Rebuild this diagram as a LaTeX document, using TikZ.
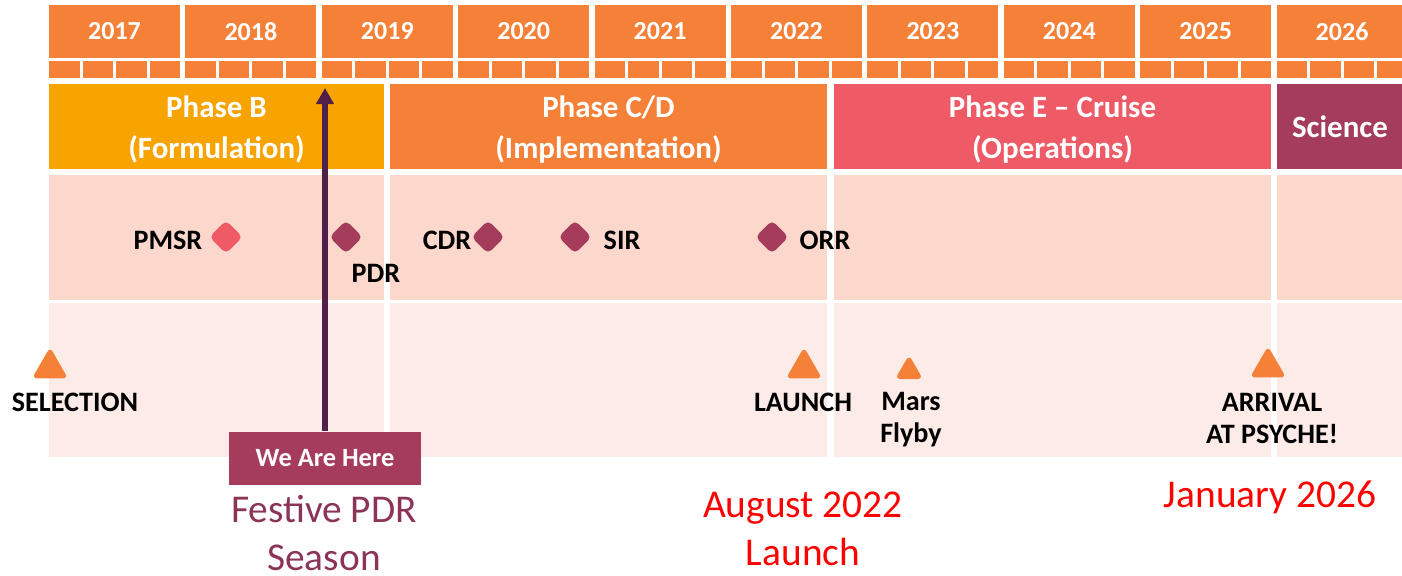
\documentclass[tikz,border=0pt]{standalone}
\usepackage{fontspec}
\setmainfont{Carlito}
\usetikzlibrary{arrows.meta, shapes.geometric}
\definecolor{YearOrange}{RGB}{245,128,55}
\definecolor{PhaseGold}{RGB}{247,163,0}
\definecolor{PhaseCoral}{RGB}{239,90,103}
\definecolor{Maroon}{RGB}{166,60,91}
\definecolor{BandDark}{RGB}{251,215,204}
\definecolor{BandLight}{RGB}{253,235,231}
\definecolor{NowPurple}{RGB}{80,32,74}
\definecolor{SeasonText}{RGB}{140,52,86}

\begin{document}
\begin{tikzpicture}[
  x=0.01cm, y=-0.01cm,
  year/.style={fill=YearOrange, text=white, font=\fontsize{7.4}{9}\selectfont\bfseries, minimum width=1.31cm, minimum height=0.53cm, inner sep=0},
  phase/.style={text=white, font=\fontsize{8.8}{11.4}\selectfont\bfseries, align=center, inner sep=0, anchor=base},
  review/.style={diamond, aspect=1, minimum size=0.34cm, inner sep=0, rounded corners=1.5pt},
  event/.style={regular polygon, regular polygon sides=3, fill=YearOrange, inner sep=0, rounded corners=1.5pt},
  lbl/.style={font=\fontsize{8}{9}\selectfont\bfseries, align=center, inner sep=0},
  big/.style={font=\fontsize{11.2}{13.4}\selectfont, align=center, inner sep=0, anchor=base},
  nowarr/.style={-{Triangle[width=0.17cm, length=0.16cm]}, line width=0.055cm, draw=NowPurple}
]
  \useasboundingbox (0,0) rectangle (1402,575);

  % Years with quarter ticks
  \foreach \yr [count=\i from 0] in {2017,...,2026} {
    \node[year] (y\yr) at ({49+136.4*\i+65.5}, 31.5) {\yr};
    \foreach \q in {0,...,3}
      \fill[YearOrange] ({49+136.4*\i+33.5*\q}, 61) rectangle ++(30.5,17);
  }

  % Mission phases
  \fill[PhaseGold] (49,84) rectangle (384,169);
  \fill[YearOrange] (390,84) rectangle (827,169);
  \fill[PhaseCoral] (834,84) rectangle (1271,169);
  \fill[Maroon] (1277,84) rectangle (1402,169);
  \node[phase] (phB) at (216.5,158) {Phase B\\(Formulation)};
  \node[phase] (phCD) at (608.5,158) {Phase C/D\\(Implementation)};
  \node[phase] (phE) at (1052.5,158) {Phase E -- Cruise\\(Operations)};
  \node[phase] (sci) at (1340,137) {Science};

  % Milestone bands
  \foreach \a/\b in {49/384, 390/827, 834/1271, 1277/1402} {
    \fill[BandDark] (\a,175) rectangle (\b,300);
    \fill[BandLight] (\a,303) rectangle (\b,457);
  }

  % Reviews
  \node[review, fill=PhaseCoral] (pmsr) at (226,237) {};
  \node[review, fill=Maroon] (pdr) at (346,237) {};
  \node[review, fill=Maroon] (cdr) at (488,237) {};
  \node[review, fill=Maroon] (sir) at (575,237) {};
  \node[review, fill=Maroon] (orr) at (772,237) {};
  \node[lbl, anchor=base east] (pmsr-l) at (203,249) {PMSR};
  \node[lbl, anchor=base west] (pdr-l) at (351,282) {PDR};
  \node[lbl, anchor=base east] (cdr-l) at (472,249) {CDR};
  \node[lbl, anchor=base west] (sir-l) at (603,249) {SIR};
  \node[lbl, anchor=base west] (orr-l) at (799,249) {ORR};

  % Key events
  \node[event, minimum size=0.416cm] (sel) at (50,368) {};
  \node[event, minimum size=0.416cm] (launch) at (804,368) {};
  \node[event, minimum size=0.32cm] (mars) at (909,371) {};
  \node[event, minimum size=0.416cm] (arrival) at (1268,367) {};
  \node[lbl, anchor=base] (sel-l) at (75,411) {SELECTION};
  \node[lbl, anchor=base] (launch-l) at (803,411) {LAUNCH};
  \node[lbl, anchor=base, font=\fontsize{8}{8.9}\selectfont\bfseries] (mars-l) at (911,442) {Mars\\Flyby};
  \node[lbl, anchor=base, font=\fontsize{8}{9.1}\selectfont\bfseries] (arrival-l) at (1272,443) {ARRIVAL\\AT PSYCHE!};

  % Current position
  \coordinate (now) at (325,88);
  \node[fill=Maroon, text=white, font=\fontsize{7.5}{9}\selectfont\bfseries, minimum width=1.91cm, minimum height=0.53cm, inner sep=0] (here) at (325,458.5) {We Are Here};
  \draw[nowarr] (here.north) -- (now);

  % Notes
  \node[big, text=SeasonText] (season) at (324,570) {Festive PDR\\Season};
  \node[big, text=red] (launch-n) at (803,565) {August 2022\\Launch};
  \node[big, text=red] (arrival-n) at (1270,507) {January 2026};
\end{tikzpicture}
\end{document}
